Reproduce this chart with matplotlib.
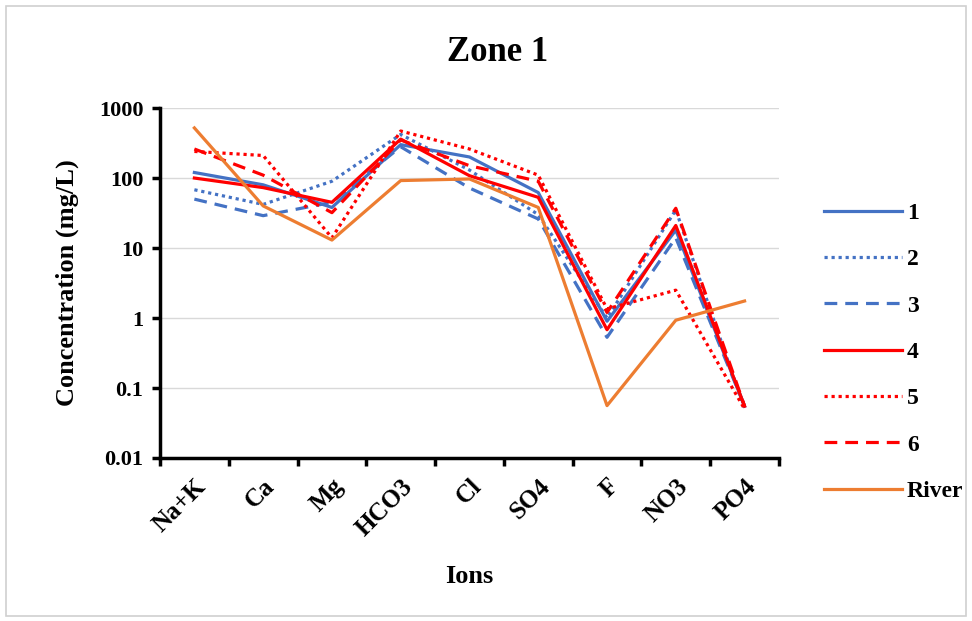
import numpy as np
import matplotlib.pyplot as plt
from matplotlib.patches import Rectangle

# Zone 1 ion concentrations (mg/L), log scale line chart
ions = ['Na+K', 'Ca', 'Mg', 'HCO3', 'Cl', 'SO4', 'F', 'NO3', 'PO4']

s1 = [120, 80, 38, 300, 200, 62, 0.9, 18, 0.055]
s2 = [68, 42, 90, 420, 130, 30, 1.0, 35, 0.05]
s3 = [50, 29, 45, 280, 72, 26, 0.53, 14, 0.055]
s4 = [100, 73, 45, 360, 108, 53, 0.68, 21, 0.055]
s5 = [240, 210, 14, 470, 260, 110, 1.35, 2.5, 0.05]
s6 = [260, 110, 32, 350, 150, 90, 1.2, 37, 0.055]
river = [520, 40, 13, 92, 97, 38, 0.056, 0.93, 1.75]

series_names = ['1', '2', '3', '4', '5', '6', 'River']
yticks = [0.01, 0.1, 1, 10, 100, 1000]
ytick_labels = ['0.01', '0.1', '1', '10', '100', '1000']

blue = '#4472C4'
red = '#FF0000'
orange = '#ED7D31'
dot = (0, (1, 1.2))
dash = (0, (4, 2.5))


def plot_zone(save_path='out.png'):
    plt.rcParams['font.family'] = ['Liberation Serif', 'DejaVu Serif']
    fig = plt.figure(figsize=(9.72, 6.21), dpi=100)
    ax = fig.add_axes([0.1646, 0.2625, 0.6368, 0.5635])

    x = np.arange(len(ions))
    styles = [(s1, blue, '-'), (s2, blue, dot), (s3, blue, dash),
              (s4, red, '-'), (s5, red, dot), (s6, red, dash),
              (river, orange, '-')]
    for (vals, col, ls), name in zip(styles, series_names):
        ax.plot(x, vals, color=col, linestyle=ls, lw=2.3, label=name)

    ax.set_yscale('log')
    ax.set_ylim(0.01, 1000)
    ax.set_xlim(-0.5, len(ions) - 0.5)
    ax.set_yticks(yticks)
    ax.set_yticklabels(ytick_labels)
    ax.minorticks_off()
    ax.yaxis.grid(True, color='#D9D9D9', lw=1)
    ax.set_axisbelow(True)

    ax.set_xticks(x)
    ax.set_xticklabels(ions, rotation=45, ha='right', rotation_mode='anchor')
    ax.set_xticks(np.arange(len(ions) + 1) - 0.5, minor=True)
    ax.tick_params(axis='x', which='major', length=0, pad=12)
    ax.tick_params(axis='x', which='minor', length=6, width=2.5)
    ax.tick_params(axis='y', length=6, width=2.5, pad=6)
    for lab in ax.get_xticklabels():
        lab.set_fontsize(18)
        lab.set_fontweight('bold')
    for lab in ax.get_yticklabels():
        lab.set_fontsize(16)
        lab.set_fontweight('bold')

    for side in ['top', 'right']:
        ax.spines[side].set_visible(False)
    for side in ['left', 'bottom']:
        ax.spines[side].set_linewidth(2.5)

    ax.set_ylabel('Concentration (mg/L)', fontsize=19, fontweight='bold', labelpad=14)
    ax.set_xlabel('Ions', fontsize=19, fontweight='bold', labelpad=18)
    fig.text(0.512, 0.915, 'Zone 1', fontsize=25, fontweight='bold',
             ha='center', va='center')

    fig.legend(loc='center left', bbox_to_anchor=(0.836, 0.433), frameon=False,
               prop={'size': 17, 'weight': 'bold'}, handlelength=3.3,
               handletextpad=0.2, labelspacing=1.05, borderpad=0)

    fig.patches.append(Rectangle((0.006, 0.008), 0.988, 0.982, transform=fig.transFigure,
                                 fill=False, edgecolor='#D0D0D0', lw=1.2))

    fig.savefig(save_path, dpi=100)


if __name__ == '__main__':
    plot_zone('out.png')
